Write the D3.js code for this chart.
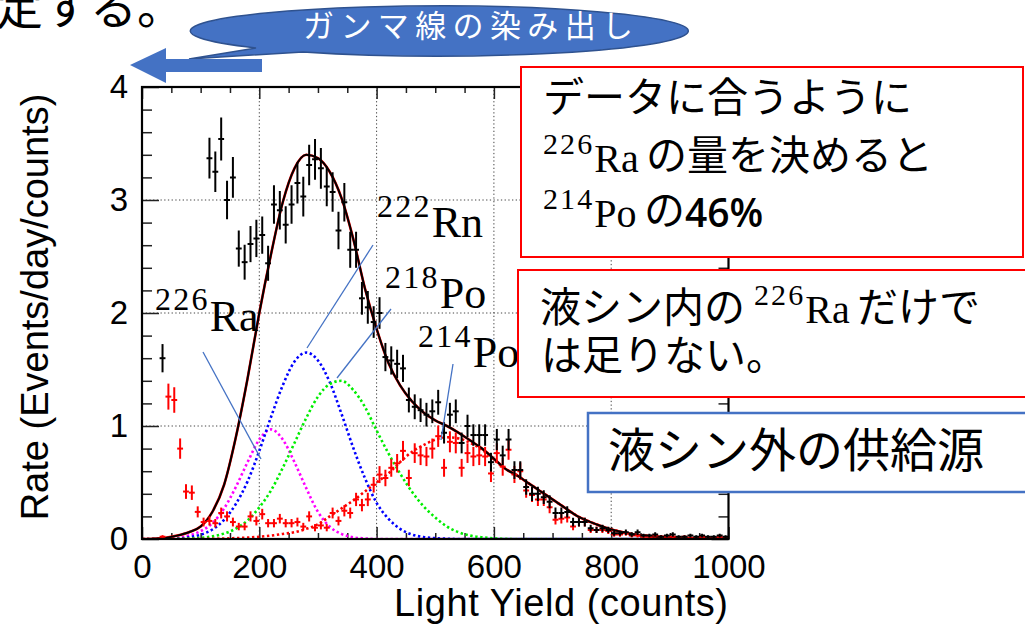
<!DOCTYPE html>
<html><head><meta charset="utf-8">
<script src="https://cdn.jsdelivr.net/npm/d3@7"></script>
<style>
body{margin:0;background:#fff;}
svg{display:block;}
</style></head><body>
<svg id="chart" width="1025" height="628"></svg>
<script>
// ---- axis ticks ----
const xMajorTicks = [0, 200, 400, 600, 800, 1000];
const xMinorTicks = [50,100,150,250,300,350,450,500,550,650,700,750,850,900,950];
const yMajorTicks = [0, 1, 2, 3, 4];
const yMinorTicks = [0.2,0.4,0.6,0.8,1.2,1.4,1.6,1.8,2.2,2.4,2.6,2.8,3.2,3.4,3.6,3.8];
const gridX = [200, 400, 600, 800];
const gridY = [1, 2, 3];

// ---- measured spectrum (all events), 10-count bins ----
const blackBins = [35,115,125,135,145,155,165,175,185,195,205,215,225,235,245,255,265,275,285,295,305,
  315,325,335,345,355,365,375,385,395,405,415,425,435,445,455,465,475,485,495,505,
  515,525,535,545,555,565,575,585,595,605,615,625,635,645,655,665,675,685,695,705,
  715,725,735,745,755,765,775,785,795,805,815,825,835,845,855,865,875,885,895,905,
  915,925,935,945,955,965,975,985,995];
const blackRate = [1.60,3.37,3.25,3.54,3.00,3.20,2.57,2.45,2.61,2.66,2.69,2.44,2.96,2.91,2.78,2.96,3.15,3.03,3.31,3.36,3.28,
  3.12,3.07,2.73,2.98,2.56,2.56,2.13,2.05,1.92,2.00,1.61,1.58,1.55,1.51,1.23,1.17,1.14,1.10,1.13,1.21,
  0.94,1.10,1.13,0.85,1.00,0.92,0.92,0.92,0.68,0.88,0.74,0.88,0.61,0.61,0.46,0.40,0.40,0.37,0.33,0.23,
  0.23,0.24,0.15,0.15,0.15,0.095,0.08,0.095,0.08,0.05,0.05,0.06,0.04,0.06,0.03,0.03,0.04,0.02,0.03,0.04,
  0.02,0.02,0.03,0.02,0.03,0.02,0.02,0.03,0.02];
const blackErr = [0.125,0.18,0.18,0.19,0.17,0.18,0.16,0.155,0.16,0.165,0.165,0.155,0.17,0.17,0.165,0.17,0.18,0.175,0.18,0.18,0.18,
  0.175,0.175,0.165,0.17,0.16,0.16,0.145,0.145,0.14,0.14,0.125,0.125,0.125,0.12,0.11,0.11,0.105,0.105,0.105,0.11,
  0.095,0.105,0.105,0.092,0.1,0.095,0.095,0.095,0.083,0.094,0.086,0.094,0.078,0.078,0.068,0.063,0.063,0.061,0.057,0.048,
  0.048,0.049,0.039,0.039,0.039,0.031,0.028,0.031,0.028,0.022,0.022,0.024,0.02,0.024,0.017,0.017,0.02,0.014,0.017,0.02,
  0.014,0.014,0.017,0.014,0.017,0.014,0.014,0.017,0.014];

// ---- 214Po-tagged spectrum ----
const redBins = [35,45,55,65,75,85,95,105,
  115,125,135,145,155,165,175,185,195,205,215,225,235,245,255,265,275,285,295,305,
  315,325,335,345,355,365,375,385,395,405,415,425,435,445,455,465,475,485,495,505,
  515,525,535,545,555,565,575,585,595,605,615,625,635,645,655,665,675,685,695,705,
  715,725,735,745,755,765,775,785,795,805,815,825,835,845,855,865,875,885,895,905,
  915,925,935,945,955,965,975,985,995];
const redRate = [0.02,1.26,1.23,0.80,0.42,0.41,0.24,0.15,
  0.16,0.14,0.23,0.20,0.15,0.11,0.11,0.20,0.16,0.22,0.14,0.14,0.18,0.14,0.14,0.15,0.11,0.20,0.10,0.12,
  0.10,0.23,0.16,0.25,0.23,0.35,0.30,0.35,0.48,0.57,0.54,0.63,0.67,0.78,0.54,0.76,0.74,0.73,0.80,0.91,
  0.63,0.86,0.85,0.63,0.76,0.73,0.74,0.73,0.58,0.76,0.64,0.79,0.57,0.60,0.43,0.39,0.35,0.35,0.28,0.17,
  0.18,0.19,0.11,0.15,0.15,0.08,0.08,0.08,0.07,0.04,0.04,0.05,0.03,0.03,0.02,0.02,0.03,0.02,0.02,0.02,
  0.01,0.02,0.01,0.01,0.02,0.01,0.01,0.02,0.01];
const redErr = [0.014,0.115,0.113,0.09,0.065,0.064,0.049,0.039,
  0.04,0.037,0.048,0.045,0.039,0.033,0.033,0.045,0.04,0.047,0.037,0.037,0.042,0.037,0.037,0.039,0.033,0.045,0.032,0.035,
  0.032,0.048,0.04,0.05,0.048,0.059,0.055,0.059,0.069,0.075,0.073,0.079,0.082,0.088,0.073,0.087,0.086,0.085,0.089,0.095,
  0.079,0.093,0.092,0.079,0.087,0.085,0.086,0.085,0.076,0.087,0.08,0.089,0.075,0.077,0.066,0.062,0.059,0.059,0.053,0.041,
  0.042,0.044,0.033,0.039,0.039,0.028,0.028,0.028,0.026,0.02,0.02,0.022,0.017,0.017,0.014,0.014,0.017,0.014,0.014,0.014,
  0.01,0.014,0.01,0.01,0.014,0.01,0.01,0.014,0.01];

// ---- fit curves, sampled every 20 counts ----
const fitX = [0,20,40,60,80,100,120,140,160,180,200,220,240,260,280,300,320,340,360,380,400,
  420,440,460,480,500,520,540,560,580,600,620,640,660,680,700,720,740,760,780,800,
  820,840,860,880,900,920,940,960,980,1000];
const fitTotal = [0,0.002,0.01,0.03,0.06,0.11,0.24,0.48,0.9,1.42,2.0,2.52,2.98,3.28,3.40,3.37,3.25,3.02,2.66,2.22,1.86,
  1.56,1.36,1.22,1.12,1.05,1.0,0.94,0.87,0.80,0.71,0.62,0.56,0.49,0.42,0.35,0.28,0.21,0.16,0.12,0.085,
  0.06,0.04,0.028,0.02,0.014,0.01,0.007,0.005,0.003,0.002];
const fitRa226 = [0,0,0.002,0.01,0.03,0.07,0.14,0.27,0.46,0.68,0.88,0.97,0.88,0.68,0.45,0.24,0.11,0.045,0.015,0.005,0,
  0,0,0,0,0,0,0,0,0,0,0,0,0,0,0,0,0,0,0,0,
  0,0,0,0,0,0,0,0,0,0];
const fitRn222 = [0,0,0.001,0.004,0.015,0.038,0.084,0.17,0.31,0.51,0.78,1.08,1.36,1.57,1.65,1.58,1.39,1.11,0.81,0.54,0.32,
  0.18,0.09,0.04,0.017,0.007,0.003,0,0,0,0,0,0,0,0,0,0,0,0,0,0,
  0,0,0,0,0,0,0,0,0,0];
const fitPo218 = [0,0,0,0.001,0.004,0.01,0.023,0.048,0.092,0.165,0.28,0.43,0.63,0.85,1.07,1.26,1.37,1.40,1.32,1.17,0.96,
  0.76,0.58,0.42,0.29,0.19,0.11,0.06,0.03,0.015,0.006,0.002,0,0,0,0,0,0,0,0,0,
  0,0,0,0,0,0,0,0,0,0];
const fitPo214 = [0,0,0,0,0,0,0.002,0.004,0.008,0.012,0.02,0.03,0.045,0.06,0.09,0.13,0.2,0.27,0.34,0.42,0.5,
  0.58,0.68,0.77,0.83,0.88,0.90,0.89,0.85,0.79,0.70,0.62,0.56,0.49,0.42,0.35,0.28,0.21,0.16,0.12,0.085,
  0.06,0.04,0.028,0.02,0.014,0.01,0.007,0.005,0.003,0.002];

// ---- drawing ----
const svg = d3.select('#chart');
const x = d3.scaleLinear().domain([0, 1000]).range([142, 728.5]);
const y = d3.scaleLinear().domain([0, 4]).range([539, 87]);
const JP = '"Noto Sans CJK JP", "Noto Sans CJK SC", sans-serif';
const SERIF = '"Liberation Serif", "DejaVu Serif", serif';
const SANS = '"Liberation Sans", Arial, sans-serif';

svg.append('rect').attr('width', 1025).attr('height', 628).attr('fill', '#fff');
svg.append('defs').append('clipPath').attr('id', 'plotClip')
  .append('rect').attr('x', x(0)).attr('y', y(4)).attr('width', x(1000) - x(0)).attr('height', y(0) - y(4));

// grid
const grid = svg.append('g');
grid.selectAll('.gx').data(gridX).join('line')
  .attr('x1', d => x(d)).attr('x2', d => x(d)).attr('y1', y(0)).attr('y2', y(4))
  .attr('stroke', '#444').attr('stroke-width', 1).attr('stroke-dasharray', '1.3,2.4');
grid.selectAll('.gy').data(gridY).join('line')
  .attr('y1', d => y(d)).attr('y2', d => y(d)).attr('x1', x(0)).attr('x2', x(1000))
  .attr('stroke', '#444').attr('stroke-width', 1).attr('stroke-dasharray', '1.3,2.4');

// axes (ticks inside the frame)
function styleAxis(g) {
  g.select('.domain').remove();
  g.selectAll('.tick line').attr('stroke', '#222').attr('stroke-width', 1.5);
  g.selectAll('text').attr('font-family', SANS).attr('font-size', 33).attr('fill', '#000');
}
svg.append('g').attr('transform', `translate(0,${y(0)})`)
  .call(d3.axisBottom(x).tickValues(xMajorTicks).tickSize(-12).tickPadding(16).tickFormat(d3.format('d'))).call(styleAxis);
svg.append('g').attr('transform', `translate(0,${y(0)})`)
  .call(d3.axisBottom(x).tickValues(xMinorTicks).tickSize(-6).tickFormat('')).call(styleAxis);
svg.append('g').attr('transform', `translate(0,${y(4)})`)
  .call(d3.axisTop(x).tickValues(xMajorTicks).tickSize(-12).tickFormat('')).call(styleAxis);
svg.append('g').attr('transform', `translate(0,${y(4)})`)
  .call(d3.axisTop(x).tickValues(xMinorTicks).tickSize(-6).tickFormat('')).call(styleAxis);
svg.append('g').attr('transform', `translate(${x(0)},0)`)
  .call(d3.axisLeft(y).tickValues(yMajorTicks).tickSize(-17).tickPadding(14).tickFormat(d3.format('d'))).call(styleAxis);
svg.append('g').attr('transform', `translate(${x(0)},0)`)
  .call(d3.axisLeft(y).tickValues(yMinorTicks).tickSize(-10).tickFormat('')).call(styleAxis);
svg.append('g').attr('transform', `translate(${x(1000)},0)`)
  .call(d3.axisRight(y).tickValues(yMajorTicks).tickSize(-17).tickFormat('')).call(styleAxis);
svg.append('g').attr('transform', `translate(${x(1000)},0)`)
  .call(d3.axisRight(y).tickValues(yMinorTicks).tickSize(-10).tickFormat('')).call(styleAxis);

// axis titles
svg.append('text').attr('x', 561).attr('y', 616).attr('text-anchor', 'middle')
  .attr('font-family', SANS).attr('font-size', 38).attr('textLength', 334).text('Light Yield (counts)');
svg.append('text').attr('transform', 'translate(48,307) rotate(-90)').attr('text-anchor', 'middle')
  .attr('font-family', SANS).attr('font-size', 38).text('Rate (Events/day/counts)');

// plot contents
const plot = svg.append('g').attr('clip-path', 'url(#plotClip)');
const line = vals => d3.line().x((d, i) => x(fitX[i])).y(d => y(d)).curve(d3.curveMonotoneX)(vals);

const components = [
  { vals: fitRa226, color: '#ff00ff' },
  { vals: fitRn222, color: '#0000ff' },
  { vals: fitPo218, color: '#00ee00' },
  { vals: fitPo214, color: '#ff0000' }
];
components.forEach(c => {
  plot.append('path').attr('d', line(c.vals)).attr('fill', 'none')
    .attr('stroke', c.color).attr('stroke-width', 2.6).attr('stroke-dasharray', '2.4,2.6');
});
plot.append('path').attr('d', line(fitTotal)).attr('fill', 'none').attr('stroke', '#ff0000').attr('stroke-width', 2.6);
plot.append('path').attr('d', line(fitTotal)).attr('fill', 'none').attr('stroke', '#000').attr('stroke-width', 2);

function drawPoints(bins, rate, err, color) {
  const g = plot.append('g').attr('stroke', color).attr('stroke-width', 2);
  bins.forEach((b, i) => {
    g.append('line').attr('x1', x(b)).attr('x2', x(b))
      .attr('y1', y(Math.max(0, rate[i] - err[i]))).attr('y2', y(rate[i] + err[i]));
    g.append('line').attr('x1', x(b - 5)).attr('x2', x(b + 5))
      .attr('y1', y(rate[i])).attr('y2', y(rate[i]));
  });
}
drawPoints(redBins, redRate, redErr, '#ff0000');
drawPoints(blackBins, blackRate, blackErr, '#000');

// frame
svg.append('rect').attr('x', x(0)).attr('y', y(4)).attr('width', x(1000) - x(0)).attr('height', y(0) - y(4))
  .attr('fill', 'none').attr('stroke', '#000').attr('stroke-width', 2.2);

// isotope labels and leader lines
const leaders = [
  [203, 352, 261, 459],
  [307, 348, 373, 245],
  [337, 378, 391, 309],
  [441, 440, 453, 364]
];
svg.selectAll('.leader').data(leaders).join('line')
  .attr('x1', d => d[0]).attr('y1', d => d[1]).attr('x2', d => d[2]).attr('y2', d => d[3])
  .attr('stroke', '#4472c4').attr('stroke-width', 1.3);

// mass number as a superscript followed by the element symbol
function nuclide(parent, px, py, mass, sym, symSize, supSize, rise) {
  const t = parent.append('tspan').attr('font-family', SERIF);
  if (px !== null) t.attr('x', px).attr('y', py);
  t.append('tspan').attr('font-size', supSize).attr('dy', -rise).attr('letter-spacing', supSize * 0.07).text(mass);
  t.append('tspan').attr('font-size', symSize).attr('dy', rise).text(sym);
  return t;
}
function nuclideLabel(px, py, mass, sym, symSize, supSize, rise) {
  const t = svg.append('text').attr('x', px).attr('y', py);
  nuclide(t, null, null, mass, sym, symSize, supSize, rise);
  return t;
}
nuclideLabel(377, 237, '222', 'Rn', 44, 32, 20);
nuclideLabel(385, 308, '218', 'Po', 44, 32, 20);
nuclideLabel(155, 331, '226', 'Ra', 44, 32, 21);
nuclideLabel(418, 367, '214', 'Po', 44, 32, 20);

// callout and arrow
svg.append('path')
  .attr('d', 'M256,47.9 L189,59 L303,51.9 A249,25 0 1 0 256,47.9 Z')
  .attr('fill', '#4472c4').attr('stroke', '#2f528f').attr('stroke-width', 1.5);
svg.append('text').attr('x', 303).attr('y', 37).attr('font-family', JP).attr('font-size', 31)
  .attr('fill', '#fff').attr('textLength', 330).attr('lengthAdjust', 'spacing').text('ガンマ線の染み出し');
svg.append('path').attr('d', 'M130,65 L166,48 L166,59 L262,59 L262,72 L166,72 L166,83 Z').attr('fill', '#4472c4');

// heading fragment at the top
svg.append('text').attr('x', -4).attr('y', 24).attr('font-family', JP).attr('font-size', 47).text('定する。');

// text boxes
svg.append('rect').attr('x', 521).attr('y', 67).attr('width', 502).attr('height', 190)
  .attr('fill', '#fff').attr('stroke', '#ff0000').attr('stroke-width', 2);
const box1 = svg.append('text').attr('font-family', JP).attr('font-size', 41);
box1.append('tspan').attr('x', 543).attr('y', 112).text('データに合うように');
nuclide(box1, 543, 172, '226', 'Ra', 40, 30, 18);
box1.append('tspan').attr('x', 646).attr('y', 170).text('の量を決めると');
nuclide(box1, 543, 227, '214', 'Po', 40, 30, 18);
box1.append('tspan').attr('x', 644).attr('y', 225).text('の');
box1.append('tspan').attr('x', 685).attr('y', 227).attr('font-family', '"Open Sans", sans-serif')
  .attr('font-weight', 600).attr('font-size', 39).text('46%');

svg.append('rect').attr('x', 518).attr('y', 270).attr('width', 530).attr('height', 127)
  .attr('fill', '#fff').attr('stroke', '#ff0000').attr('stroke-width', 2);
const box2 = svg.append('text').attr('font-family', JP).attr('font-size', 41);
box2.append('tspan').attr('x', 540).attr('y', 322).text('液シン内の');
nuclide(box2, 754, 323, '226', 'Ra', 40, 30, 18);
box2.append('tspan').attr('x', 857).attr('y', 322).text('だけで');
box2.append('tspan').attr('x', 541).attr('y', 370).text('は足りない。');

svg.append('rect').attr('x', 588).attr('y', 413).attr('width', 460).attr('height', 79)
  .attr('fill', '#fff').attr('stroke', '#4472c4').attr('stroke-width', 2.5);
svg.append('text').attr('x', 608).attr('y', 467).attr('font-family', JP).attr('font-size', 47).text('液シン外の供給源');
</script></body></html>
